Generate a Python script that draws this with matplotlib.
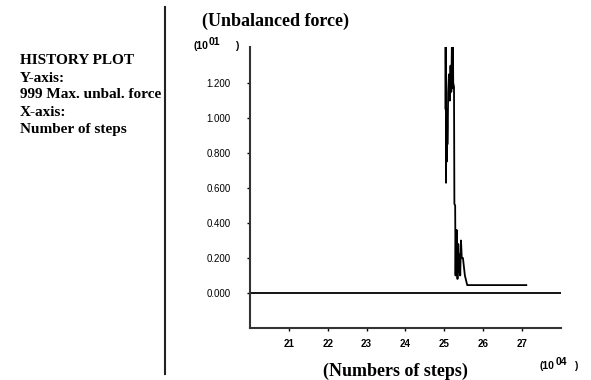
import numpy as np
import matplotlib.pyplot as plt

# history of max unbalanced force (x in 10^4 steps, y in 10^1)
steps = [25.03, 25.035, 25.04, 25.045, 25.05, 25.06, 25.07, 25.08, 25.09, 25.10,
         25.12, 25.14, 25.16, 25.18, 25.20, 25.21, 25.22, 25.23, 25.25, 25.26,
         25.28, 25.29, 25.30, 25.31, 25.32, 25.34, 25.36, 25.38, 25.40, 25.41,
         25.43, 25.45, 25.48, 25.53, 25.59, 27.11]
force = [1.50, 1.05, 1.45, 0.63, 1.00, 0.75, 1.05, 0.85, 0.95, 1.15,
         1.25, 1.10, 1.30, 1.15, 1.50, 1.17, 1.50, 1.20, 1.18, 0.51,
         0.50, 0.10, 0.35, 0.15, 0.36, 0.08, 0.28, 0.12, 0.22, 0.10,
         0.30, 0.20, 0.20, 0.10, 0.045, 0.045]
xticks = [21, 22, 23, 24, 25, 26, 27]
yticks = [0.0, 0.2, 0.4, 0.6, 0.8, 1.0, 1.2]

serif = 'Liberation Serif'
sans = 'Liberation Sans'

fig = plt.figure(figsize=(5.91, 3.80), dpi=100)
ax = fig.add_axes([0.423, 0.137, 0.526, 0.739])

ax.plot(steps, force, color='black', lw=1.3)
ax.axhline(0, color='black', lw=1.3)

ax.set_xlim(20, 28)
ax.set_ylim(-0.2, 1.406)
ax.set_xticks(xticks)
ax.set_xticklabels([str(t) for t in xticks], fontfamily=sans, fontsize=7, fontweight='bold')
ax.set_yticks(yticks)
ax.set_yticklabels(['%.3f' % t for t in yticks], fontfamily=sans, fontsize=7)
ax.tick_params(axis='both', direction='out', length=2, width=1, pad=12, colors='black')
ax.tick_params(axis='x', pad=6)
for s in ['top', 'right']:
    ax.spines[s].set_visible(False)
for s in ['left', 'bottom']:
    ax.spines[s].set_linewidth(1.5)
    ax.spines[s].set_color('#333333')

# separator line at left
fig.add_artist(plt.Line2D([165/591, 165/591], [1-7/380, 1-374/380], color='#222222', lw=1.5))

fig.text(276/591, 1-21/380, '(Unbalanced force)', fontfamily=serif, fontweight='bold',
         fontsize=13, ha='center', va='center')
fig.text(395/591, 1-371/380, '(Numbers of steps)', fontfamily=serif, fontweight='bold',
         fontsize=13, ha='center', va='center')

left_lines = ['HISTORY PLOT', 'Y-axis:', '999 Max. unbal. force', 'X-axis:', 'Number of steps']
for i, t in enumerate(left_lines):
    fig.text(20/591, 1-(61 + i*17)/380, t, fontfamily=serif, fontweight='bold',
             fontsize=11, ha='left', va='center')

# exponent labels
def exp_label(x, y, e, close):
    fig.text(x/591, 1-y/380, '(10', fontfamily=sans, fontsize=7.5, fontweight='bold',
             ha='left', va='center')
    fig.text((x+16)/591, 1-(y-4)/380, e, fontfamily=sans, fontsize=7.5, fontweight='bold',
             ha='left', va='center')
    fig.text((x+close)/591, 1-y/380, ')', fontfamily=sans, fontsize=7.5, fontweight='bold',
             ha='left', va='center')

exp_label(193, 46, '01', 42)
exp_label(540, 366, '04', 34)

plt.savefig('out.png', dpi=100)
